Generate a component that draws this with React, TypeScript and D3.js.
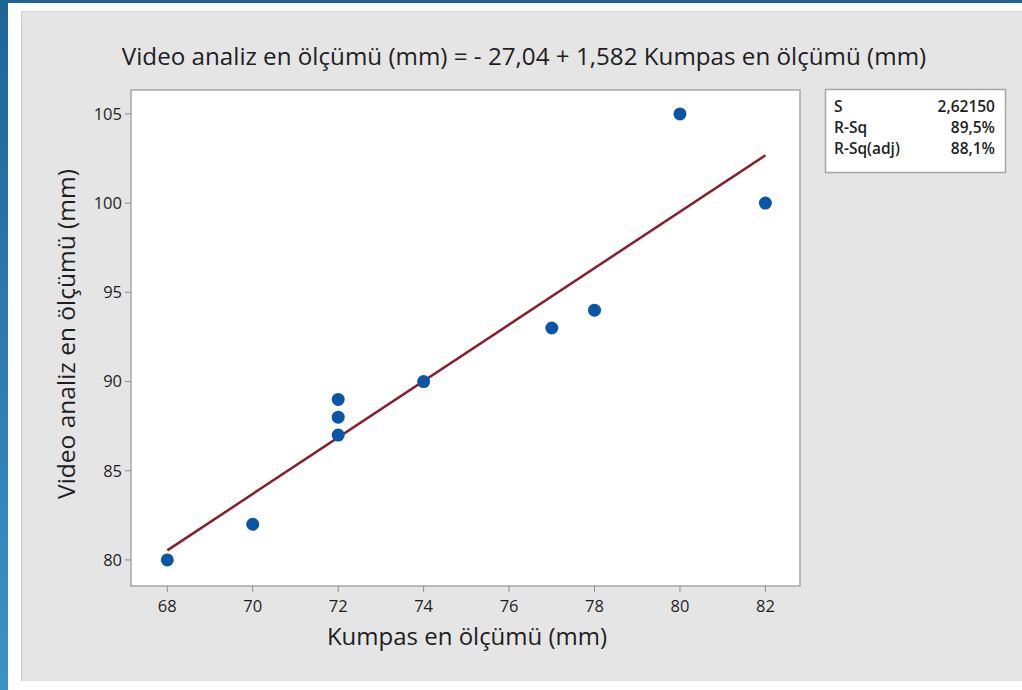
import React from "react";
import * as d3 from "d3";

const xValues = [68, 70, 72, 72, 72, 74, 77, 78, 80, 82];
const yValues = [80, 82, 87, 88, 89, 90, 93, 94, 105, 100];
const xTicks = [68, 70, 72, 74, 76, 78, 80, 82];
const yTicks = [80, 85, 90, 95, 100, 105];
const fitIntercept = -27.04;
const fitSlope = 1.582;
const fitRange = [68, 82];
const statLabels = ["S", "R-Sq", "R-Sq(adj)"];
const statValues = ["2,62150", "89,5%", "88,1%"];

const W = 1022;
const H = 690;
const FONT = "'Open Sans', 'Noto Sans', sans-serif";

export default function App() {
  const plot = { left: 131, right: 800, top: 90, bottom: 586 };
  const x = d3.scaleLinear().domain([67.15, 82.81]).range([plot.left, plot.right]);
  const y = d3.scaleLinear().domain([78.54, 106.34]).range([plot.bottom, plot.top]);
  const line = d3
    .line<number>()
    .x((d) => x(d))
    .y((d) => y(fitIntercept + fitSlope * d));
  const pts = xValues.map((v, i) => ({ x: v, y: yValues[i] }));
  const textColor = "#1e1e1e";

  return (
    <svg
      width={W}
      height={H}
      style={{ position: "absolute", left: 0, top: 0, display: "block" }}
    >
      <defs>
        <linearGradient id="blueStrip" x1="0" y1="0" x2="0" y2="1">
          <stop offset="0" stopColor="#1d6593" />
          <stop offset="1" stopColor="#3d92c6" />
        </linearGradient>
      </defs>
      <rect x={0} y={0} width={W} height={H} fill="#ffffff" />
      <rect x={0} y={0} width={W} height={3} fill="#1d6291" />
      <rect x={0} y={0} width={8} height={H} fill="url(#blueStrip)" />
      <rect x={21} y={11} width={W - 21} height={670} fill="#e5e5e5" />
      <line x1={21.5} y1={11} x2={21.5} y2={681} stroke="#c9c9c9" strokeWidth={1} />
      <line x1={21} y1={11.5} x2={W} y2={11.5} stroke="#d4d4d4" strokeWidth={1} />

      {/* plot area */}
      <rect
        x={plot.left}
        y={plot.top}
        width={plot.right - plot.left}
        height={plot.bottom - plot.top}
        fill="#ffffff"
        stroke="#a6a6a6"
        strokeWidth={1.5}
      />

      {/* y ticks */}
      {yTicks.map((t) => (
        <g key={"y" + t}>
          <line x1={plot.left - 6} x2={plot.left} y1={y(t)} y2={y(t)} stroke="#8c8c8c" strokeWidth={1} />
          <text
            x={plot.left - 9}
            y={y(t)}
            dy="0.35em"
            textAnchor="end"
            fontFamily={FONT}
            fontSize={16.5}
            fill={textColor}
          >
            {t}
          </text>
        </g>
      ))}

      {/* x ticks */}
      {xTicks.map((t) => (
        <g key={"x" + t}>
          <line x1={x(t)} x2={x(t)} y1={plot.bottom} y2={plot.bottom + 6} stroke="#8c8c8c" strokeWidth={1} />
          <text
            x={x(t)}
            y={plot.bottom + 26}
            textAnchor="middle"
            fontFamily={FONT}
            fontSize={16.5}
            fill={textColor}
          >
            {t}
          </text>
        </g>
      ))}

      {/* fit line */}
      <path d={line(fitRange) || ""} stroke="#8b1c2c" strokeWidth={2.5} fill="none" />

      {/* points */}
      {pts.map((p, i) => (
        <circle key={i} cx={x(p.x)} cy={y(p.y)} r={6.5} fill="#0b55a6" />
      ))}

      {/* title */}
      <text
        x={524}
        y={65}
        textAnchor="middle"
        fontFamily={FONT}
        fontSize={24.2}
        fill={textColor}
      >
        Video analiz en ölçümü (mm) = - 27,04 + 1,582 Kumpas en ölçümü (mm)
      </text>

      {/* axis labels */}
      <text
        x={467}
        y={645}
        textAnchor="middle"
        fontFamily={FONT}
        fontSize={24}
        fill={textColor}
      >
        Kumpas en ölçümü (mm)
      </text>
      <text
        transform={`translate(75, ${334}) rotate(-90)`}
        textAnchor="middle"
        fontFamily={FONT}
        fontSize={24.5}
        fill={textColor}
      >
        Video analiz en ölçümü (mm)
      </text>

      {/* stats box */}
      <rect x={825.5} y={89.5} width={180} height={83} fill="#ffffff" stroke="#a6a6a6" strokeWidth={1.5} />
      {statLabels.map((s, i) => (
        <g key={s}>
          <text
            x={834}
            y={112 + i * 21}
            fontFamily={FONT}
            fontSize={15.5}
            fontWeight={600}
            fill={textColor}
          >
            {s}
          </text>
          <text
            x={995}
            y={112 + i * 21}
            textAnchor="end"
            fontFamily={FONT}
            fontSize={15.5}
            fontWeight={600}
            fill={textColor}
          >
            {statValues[i]}
          </text>
        </g>
      ))}
    </svg>
  );
}
